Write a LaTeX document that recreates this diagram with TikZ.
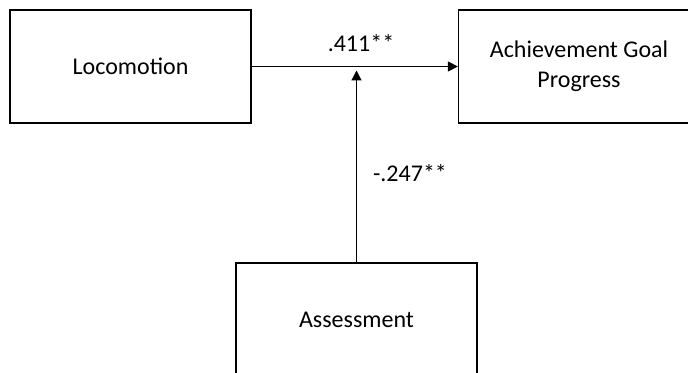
\documentclass[tikz,border=0pt]{standalone}
\usepackage{fontspec}
\setmainfont{Carlito}
\usetikzlibrary{arrows.meta}
\tikzset{
	varbox/.style={draw, line width=0.65pt, minimum width=120.5pt, minimum height=56.5pt, align=center, font=\fontsize{12}{15}\selectfont},
	coef/.style={font=\fontsize{12}{15}\selectfont, inner sep=0pt},
	path/.style={line width=0.65pt, -{Triangle[length=5pt,width=5pt]}}
}
\begin{document}
\begin{tikzpicture}[x=0.5pt, y=-0.5pt]
		%%%%% START %%%%%
		
		\useasboundingbox (0, 0) rectangle (688, 373);
		\clip (0, 0) rectangle (688, 373);
		
		\node[varbox] (loco) at (130.5, 66.5) {Locomotion};
		\node[varbox] (goal) at (579, 66.5) {Achievement Goal\\Progress};
		\node[varbox] (assess) at (356.5, 319.5) {Assessment};
		
		\coordinate (mod) at (356.5, 70.5);
		
		\draw[path] (loco.east) -- (goal.west);
		\draw[path] (assess.north) -- (mod);
		
		\node[coef] (b1) at (361, 43) {.411**};
		\node[coef] (b2) at (410, 173) {-.247**};
		
		%%%%% END %%%%%
	\end{tikzpicture}
\end{document}
